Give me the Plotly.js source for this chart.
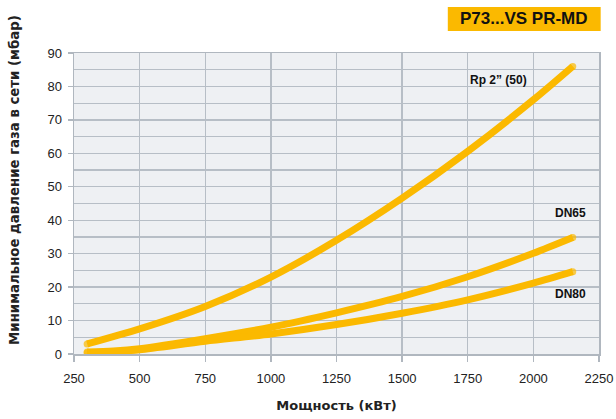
<!DOCTYPE html>
<html>
<head>
<meta charset="utf-8">
<script src="https://cdn.plot.ly/plotly-3.0.1.min.js"></script>
<style>
html,body{margin:0;padding:0;background:#fff;}
#chart{width:616px;height:419px;}
</style>
</head>
<body>
<div id="chart"></div>
<script>
// Data
const rpX   = [300, 500, 750, 1000, 1250, 1500, 1750, 2000, 2150];
const rpY   = [3.0, 7.5, 14.2, 23.0, 34.0, 46.6, 60.6, 76.0, 86.0];
const dn65X = [300, 400, 500, 750, 1000, 1250, 1500, 1750, 2000, 2150];
const dn65Y = [0.6, 0.9, 1.6, 4.6, 8.0, 12.3, 17.2, 23.1, 30.1, 34.8];
const dn80X = [300, 400, 500, 750, 1000, 1250, 1500, 1750, 2000, 2150];
const dn80Y = [0.4, 0.6, 1.3, 3.8, 6.0, 8.8, 12.2, 16.2, 21.2, 24.6];
const seriesNames = ['Rp 2” (50)', 'DN65', 'DN80'];
const labelPos = [[1868, 82], [2143, 42.2], [2143, 17.9]];
const xTicks = [250, 500, 750, 1000, 1250, 1500, 1750, 2000, 2250];
const yTicks = [0, 10, 20, 30, 40, 50, 60, 70, 80, 90];
const chartTitle = 'P73...VS PR-MD';
const xTitle = 'Мощность (кВт)';
const yTitle = 'Минимальное давление газа в сети (мбар)';

const yellow = '#FBB900';
const font = 'Liberation Sans, Arial, sans-serif';
const titleFont = 'DejaVu Sans, Verdana, sans-serif';

function line(x, y, name) {
  return {
    x: x, y: y, name: name, type: 'scatter', mode: 'lines+markers',
    line: {color: yellow, width: 7, shape: 'spline', smoothing: 0.8},
    marker: {color: yellow, line: {width: 0},
             size: x.map((v, i) => (i === 0 || i === x.length - 1) ? 7 : 0)},
    hoverinfo: 'skip'
  };
}

const data = [
  line(rpX, rpY, seriesNames[0]),
  line(dn65X, dn65Y, seriesNames[1]),
  line(dn80X, dn80Y, seriesNames[2])
];

const annotations = seriesNames.map((n, i) => ({
  x: labelPos[i][0], y: labelPos[i][1], xref: 'x', yref: 'y',
  text: '<b>' + n + '</b>', showarrow: false,
  font: {family: font, size: 12, color: '#111'}
}));
annotations.push({
  xref: 'paper', yref: 'paper', x: 0.8566, y: 1.113,
  xanchor: 'center', yanchor: 'middle', showarrow: false,
  text: '<b>' + chartTitle + '</b>',
  font: {family: font, size: 17, color: '#111'}
});
// y-axis title placed as rotated text (it sits left of and above the plot centre)
annotations.push({
  xref: 'paper', yref: 'paper', x: -0.1145, y: 0.578,
  xanchor: 'center', yanchor: 'middle', showarrow: false, textangle: -90,
  text: '<b>' + yTitle + '</b>',
  font: {family: titleFont, size: 13.3, color: '#222'}
});

const layout = {
  width: 616, height: 419,
  margin: {l: 74, r: 17, t: 53, b: 65},
  paper_bgcolor: '#ffffff',
  plot_bgcolor: '#eef0f3',
  showlegend: false,
  font: {family: font, color: '#222', size: 13},
  shapes: [{
    type: 'rect', xref: 'paper', yref: 'paper',
    x0: 0.712, x1: 1.0032, y0: 1.073, y1: 1.153,
    fillcolor: yellow, line: {width: 0}, layer: 'above'
  }],
  annotations: annotations,
  xaxis: {
    range: [250, 2250], tickvals: xTicks, ticktext: xTicks.map(String),
    showgrid: true, gridcolor: '#b7bec6', gridwidth: 1.3,
    showline: true, linecolor: '#b0b7bf', linewidth: 1.5, mirror: true,
    ticks: 'outside', ticklen: 6, tickcolor: '#b0b7bf', tickwidth: 1.3,
    ticklabelstandoff: 6,
    zeroline: false,
    tickfont: {family: font, size: 13, color: '#222'},
    title: {text: '<b>' + xTitle + '</b>', font: {family: titleFont, size: 13, color: '#222'}, standoff: 16}
  },
  yaxis: {
    range: [0, 90], tickvals: yTicks, ticktext: yTicks.map(String),
    showgrid: true, gridcolor: '#b7bec6', gridwidth: 1.3,
    minor: {dtick: 5, tick0: 0, showgrid: true, gridcolor: '#b7bec6', gridwidth: 1.3},
    showline: true, linecolor: '#b0b7bf', linewidth: 1.5, mirror: true,
    ticks: 'outside', ticklen: 5, tickcolor: '#b0b7bf', tickwidth: 1.3,
    ticklabelstandoff: 3,
    zeroline: false,
    tickfont: {family: font, size: 13, color: '#222'}
  }
};

Plotly.newPlot('chart', data, layout, {displayModeBar: false, staticPlot: true});
</script>
</body>
</html>
